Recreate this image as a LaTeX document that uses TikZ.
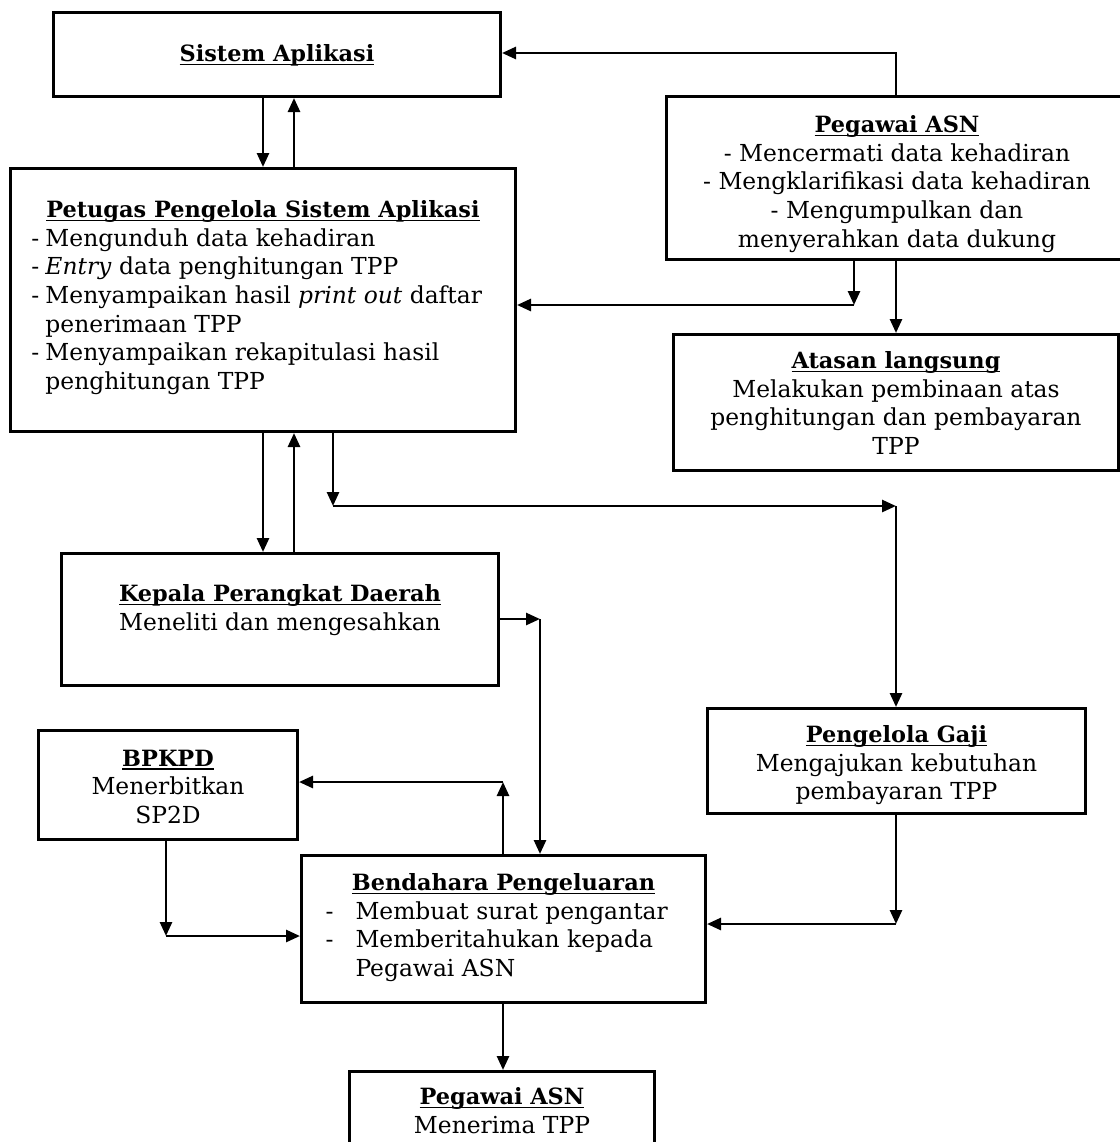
\documentclass[tikz,border=0pt]{standalone}
\usepackage{fontspec}
\setmainfont{DejaVu Serif}
\usetikzlibrary{arrows.meta}

\newcommand{\ttl}[1]{\leavevmode\setbox0\hbox{\fontsize{11.2}{14.3}\selectfont\textbf{#1}}\rlap{\rule[-1.8pt]{\wd0}{0.6pt}}\box0}
\newcommand{\boxtxt}[4]{\parbox[c][#2][t]{#1}{\vspace*{#3}#4}}

\tikzset{
	box/.style={draw, line width=1.5pt, inner sep=0pt, anchor=north west,
		font=\fontsize{11.7}{14.3}\selectfont},
	arr/.style={line width=1.35pt, -{Triangle[length=7pt,width=6pt]}}
}

\begin{document}
\begin{tikzpicture}[x=0.5pt,y=-0.5pt]
	\useasboundingbox (0,0) rectangle (1120,1142);
	% boxes
	\node[box] (SA) at (52,11) {\boxtxt{223.5pt}{42pt}{16.1pt}{\centering\ttl{Sistem Aplikasi}}};
	\node[box] (PT) at (9,167) {\boxtxt{252.5pt}{131.5pt}{16.1pt}{%
		{\centering\ttl{Petugas Pengelola Sistem Aplikasi}\par}
		\raggedright\leftskip=10.5pt
		\makebox[7pt][l]{-}Mengunduh data kehadiran\\
		\makebox[7pt][l]{-}\emph{Entry} data penghitungan TPP\\
		\makebox[7pt][l]{-}Menyampaikan hasil \emph{print out} daftar\\
		\hspace*{7pt}penerimaan TPP\\
		\makebox[7pt][l]{-}Menyampaikan rekapitulasi hasil\\
		\hspace*{7pt}penghitungan TPP}};
	\node[box] (PA) at (665,95) {\boxtxt{230.5pt}{81.5pt}{9.6pt}{\centering
		\ttl{Pegawai ASN}\\
		- Mencermati data kehadiran\\
		- Mengklarifikasi data kehadiran\\
		- Mengumpulkan dan\\
		menyerahkan data dukung}};
	\node[box] (AL) at (672,333) {\boxtxt{222.5pt}{68pt}{8.6pt}{\centering
		\ttl{Atasan langsung}\\
		Melakukan pembinaan atas\\
		penghitungan dan pembayaran\\
		TPP}};
	\node[box] (KP) at (60,552) {\boxtxt{218.5pt}{66pt}{15.6pt}{\centering
		\ttl{Kepala Perangkat Daerah}\\
		Meneliti dan mengesahkan}};
	\node[box] (BP) at (37,729) {\boxtxt{129.5pt}{54.5pt}{9.6pt}{\centering
		\ttl{BPKPD}\\
		Menerbitkan\\
		SP2D}};
	\node[box] (PG) at (706,707) {\boxtxt{189pt}{52.5pt}{8.6pt}{\centering
		\ttl{Pengelola Gaji}\\
		Mengajukan kebutuhan\\
		pembayaran TPP}};
	\node[box] (BD) at (300,854) {\boxtxt{202pt}{73.5pt}{9.1pt}{%
		{\centering\ttl{Bendahara Pengeluaran}\par}
		\raggedright\leftskip=12pt
		\makebox[15pt][l]{-}Membuat surat pengantar\\
		\makebox[15pt][l]{-}Memberitahukan kepada\\
		\hspace*{15pt}Pegawai ASN}};
	\node[box] (PB) at (348,1070) {\boxtxt{152.5pt}{45pt}{8.1pt}{\centering
		\ttl{Pegawai ASN}\\
		Menerima TPP}};
	% columns and bends
	\coordinate (u1) at (263,0);
	\coordinate (u2) at (294,0);
	\coordinate (b1) at (896,53);
	\coordinate (b2) at (854,305);
	\coordinate (b3) at (333,506);
	\coordinate (b4) at (896,506);
	\coordinate (b5) at (540,619);
	\coordinate (b6) at (503,782);
	\coordinate (b7) at (166,936);
	\coordinate (b8) at (896,924);
	% arrows
	\draw[arr] (SA.south -| u1) -- (PT.north -| u1);
	\draw[arr] (PT.north -| u2) -- (SA.south -| u2);
	\draw[arr] (PA.north -| b1) -- (b1) -- (SA.east |- b1);
	\draw[arr] (PA.south -| b2) -- (b2);
	\draw[arr] (b2) -- (PT.east |- b2);
	\draw[arr] (PA.south -| b1) -- (AL.north -| b1);
	\draw[arr] (PT.south -| u1) -- (KP.north -| u1);
	\draw[arr] (KP.north -| u2) -- (PT.south -| u2);
	\draw[arr] (PT.south -| b3) -- (b3);
	\draw[arr] (b3) -- (b4);
	\draw[arr] (b4) -- (PG.north -| b4);
	\draw[arr] (KP.east |- b5) -- (b5);
	\draw[arr] (b5) -- (BD.north -| b5);
	\draw[arr] (BD.north -| b6) -- (b6);
	\draw[arr] (b6) -- (BP.east |- b6);
	\draw[arr] (BP.south -| b7) -- (b7);
	\draw[arr] (b7) -- (BD.west |- b7);
	\draw[arr] (PG.south -| b8) -- (b8);
	\draw[arr] (b8) -- (BD.east |- b8);
	\draw[arr] (BD.south -| b6) -- (PB.north -| b6);
\end{tikzpicture}
\end{document}
